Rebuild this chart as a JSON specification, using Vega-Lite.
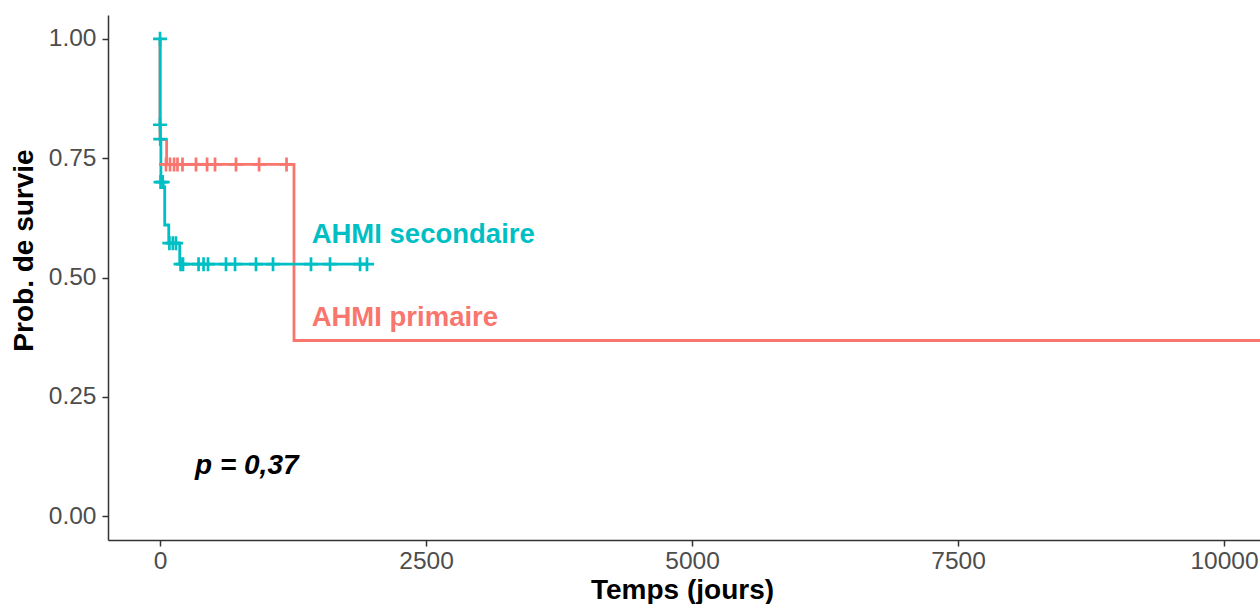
{
  "$schema": "https://vega.github.io/schema/vega-lite/v6.json",
  "width": 1152,
  "height": 525,
  "autosize": {"type": "none"},
  "padding": {"left": 108, "top": 15, "right": 0, "bottom": 64},
  "background": "white",
  "config": {
    "view": {"stroke": null},
    "font": "Liberation Sans",
    "axis": {
      "grid": false,
      "domainColor": "#333333",
      "domainWidth": 1.5,
      "tickColor": "#333333",
      "tickWidth": 1.5,
      "tickSize": 6,
      "labelFont": "Liberation Sans",
      "labelFontSize": 24.5,
      "labelColor": "#4D4D4D",
      "titleFont": "Liberation Sans",
      "titleFontSize": 28,
      "titleFontWeight": "bold",
      "titleColor": "#000000"
    }
  },
  "datasets": {
    "curve": [
      {"group": "AHMI primaire", "i": 1, "t": 0, "s": 1.0},
      {"group": "AHMI primaire", "i": 2, "t": 0, "s": 0.789},
      {"group": "AHMI primaire", "i": 3, "t": 62, "s": 0.737},
      {"group": "AHMI primaire", "i": 4, "t": 1259, "s": 0.368},
      {"group": "AHMI primaire", "i": 5, "t": 10400, "s": 0.368},
      {"group": "AHMI secondaire", "i": 1, "t": 0, "s": 1.0},
      {"group": "AHMI secondaire", "i": 2, "t": 1, "s": 0.82},
      {"group": "AHMI secondaire", "i": 3, "t": 3, "s": 0.79},
      {"group": "AHMI secondaire", "i": 4, "t": 8, "s": 0.70},
      {"group": "AHMI secondaire", "i": 5, "t": 30, "s": 0.69},
      {"group": "AHMI secondaire", "i": 6, "t": 44, "s": 0.61},
      {"group": "AHMI secondaire", "i": 7, "t": 82, "s": 0.572},
      {"group": "AHMI secondaire", "i": 8, "t": 185, "s": 0.528},
      {"group": "AHMI secondaire", "i": 9, "t": 1945, "s": 0.528}
    ],
    "censor": [
      {"group": "AHMI primaire", "t": 56, "s": 0.737},
      {"group": "AHMI primaire", "t": 94, "s": 0.737},
      {"group": "AHMI primaire", "t": 132, "s": 0.737},
      {"group": "AHMI primaire", "t": 164, "s": 0.737},
      {"group": "AHMI primaire", "t": 211, "s": 0.737},
      {"group": "AHMI primaire", "t": 338, "s": 0.737},
      {"group": "AHMI primaire", "t": 442, "s": 0.737},
      {"group": "AHMI primaire", "t": 517, "s": 0.737},
      {"group": "AHMI primaire", "t": 714, "s": 0.737},
      {"group": "AHMI primaire", "t": 931, "s": 0.737},
      {"group": "AHMI primaire", "t": 1189, "s": 0.737},
      {"group": "AHMI secondaire", "t": 0, "s": 1.0},
      {"group": "AHMI secondaire", "t": 0, "s": 0.82},
      {"group": "AHMI secondaire", "t": 2, "s": 0.79},
      {"group": "AHMI secondaire", "t": 5, "s": 0.70},
      {"group": "AHMI secondaire", "t": 25, "s": 0.70},
      {"group": "AHMI secondaire", "t": 88, "s": 0.572},
      {"group": "AHMI secondaire", "t": 120, "s": 0.572},
      {"group": "AHMI secondaire", "t": 150, "s": 0.572},
      {"group": "AHMI secondaire", "t": 193, "s": 0.528},
      {"group": "AHMI secondaire", "t": 216, "s": 0.528},
      {"group": "AHMI secondaire", "t": 362, "s": 0.528},
      {"group": "AHMI secondaire", "t": 409, "s": 0.528},
      {"group": "AHMI secondaire", "t": 451, "s": 0.528},
      {"group": "AHMI secondaire", "t": 620, "s": 0.528},
      {"group": "AHMI secondaire", "t": 705, "s": 0.528},
      {"group": "AHMI secondaire", "t": 902, "s": 0.528},
      {"group": "AHMI secondaire", "t": 1062, "s": 0.528},
      {"group": "AHMI secondaire", "t": 1419, "s": 0.528},
      {"group": "AHMI secondaire", "t": 1598, "s": 0.528},
      {"group": "AHMI secondaire", "t": 1880, "s": 0.528},
      {"group": "AHMI secondaire", "t": 1945, "s": 0.528}
    ],
    "labels": [
      {"group": "AHMI secondaire", "t": 1425, "s": 0.589, "label": "AHMI secondaire"},
      {"group": "AHMI primaire", "t": 1425, "s": 0.415, "label": "AHMI primaire"}
    ],
    "pval": [
      {"t": 329, "s": 0.105, "label": "p = 0,37"}
    ]
  },
  "encoding": {
    "x": {
      "field": "t", "type": "quantitative",
      "scale": {"domain": [-489, 10338], "nice": false, "zero": false},
      "axis": {"values": [0, 2500, 5000, 7500, 10000], "format": "d", "title": "Temps (jours)", "labelPadding": 3, "titleX": 574, "titleY": 58, "titleBaseline": "alphabetic"}
    },
    "y": {
      "field": "s", "type": "quantitative",
      "scale": {"domain": [-0.05, 1.05], "nice": false, "zero": false},
      "axis": {"values": [0, 0.25, 0.5, 0.75, 1], "format": ".2f", "title": "Prob. de survie", "labelPadding": 6, "titleX": -84, "titleY": 235, "titleBaseline": "middle", "titleAngle": 270, "titleAlign": "center"}
    }
  },
  "layer": [
    {
      "data": {"name": "curve"},
      "mark": {"type": "line", "interpolate": "step-after", "strokeWidth": 2.8, "clip": true},
      "encoding": {
        "color": {"field": "group", "type": "nominal", "scale": {"domain": ["AHMI primaire", "AHMI secondaire"], "range": ["#F8766D", "#00BFC4"]}, "legend": null},
        "order": {"field": "i", "type": "quantitative"}
      }
    },
    {
      "data": {"name": "censor"},
      "mark": {"type": "point", "shape": "M-1,0H1M0,-1V1", "filled": false, "size": 196, "strokeWidth": 2.7, "opacity": 1, "clip": true},
      "encoding": {
        "color": {"field": "group", "type": "nominal", "scale": {"domain": ["AHMI primaire", "AHMI secondaire"], "range": ["#F8766D", "#00BFC4"]}, "legend": null}
      }
    },
    {
      "data": {"name": "labels"},
      "mark": {"type": "text", "align": "left", "baseline": "middle", "fontSize": 27.5, "fontWeight": "bold", "font": "Liberation Sans"},
      "encoding": {
        "text": {"field": "label"},
        "color": {"field": "group", "type": "nominal", "scale": {"domain": ["AHMI primaire", "AHMI secondaire"], "range": ["#F8766D", "#00BFC4"]}, "legend": null}
      }
    },
    {
      "data": {"name": "pval"},
      "mark": {"type": "text", "align": "left", "baseline": "middle", "fontSize": 28, "fontWeight": "bold", "fontStyle": "italic", "font": "Liberation Sans", "color": "#000000"},
      "encoding": {"text": {"field": "label"}}
    }
  ]
}
